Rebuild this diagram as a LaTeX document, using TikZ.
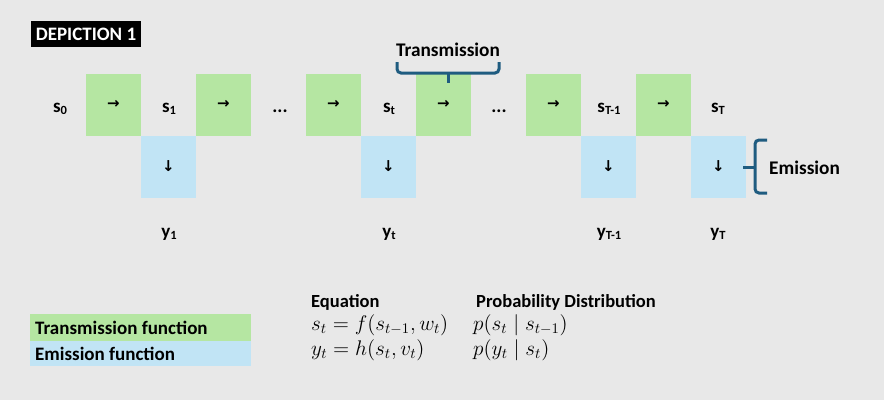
\documentclass[tikz,border=0pt]{standalone}
\usepackage{graphicx}
\usepackage[no-math]{fontspec}
\setmainfont{Carlito}
\newfontfamily\symfont{DejaVu Sans}
\definecolor{bgc}{HTML}{E8E8E8}
\definecolor{tgreen}{HTML}{B5E6A2}
\definecolor{eblue}{HTML}{C1E4F5}
\definecolor{bracec}{HTML}{1F5C80}
\tikzset{
  tbox/.style={fill=tgreen, minimum width=55pt, minimum height=62pt, inner sep=0pt, outer sep=0pt, font=\symfont\bfseries\fontsize{15}{15}\selectfont},
  ebox/.style={tbox, fill=eblue},
  lbl/.style={font=\bfseries\fontsize{19}{19}\selectfont, anchor=base, inner sep=0pt},
  bracepath/.style={draw=bracec, line width=3pt, rounded corners=4pt},
  heading/.style={font=\bfseries\fontsize{18.5}{18.5}\selectfont, anchor=base west, inner sep=0pt},
  legtxt/.style={font=\bfseries\fontsize{19}{19}\selectfont, anchor=base west, inner sep=0pt},
  eqn/.style={font=\fontsize{14.4}{14.4}\selectfont, anchor=base west, inner sep=0pt},
  bigtxt/.style={font=\bfseries\fontsize{19.3}{19.3}\selectfont, inner sep=0pt}
}
\newcommand{\lsub}[2]{#1\raisebox{-0.28ex}{\fontsize{12.5}{12.5}\selectfont #2}}
\newcommand{\bigmath}[1]{\scalebox{1.47}{$#1$}}
\begin{document}
\begin{tikzpicture}[x=1pt,y=-1pt]
\fill[bgc] (0,0) rectangle (884,400);
\useasboundingbox (0,0) rectangle (884,400);

% title
\node[fill=black, text=white, minimum width=110pt, minimum height=26pt, inner sep=0pt,
      font=\bfseries\fontsize{19}{19}\selectfont] (title) at (86,34) {DEPICTION 1};

% transmission boxes
\node[tbox] (g1) at (113.5,104.5) {→};
\node[tbox] (g2) at (223.5,104.5) {→};
\node[tbox] (g3) at (333.5,104.5) {→};
\node[tbox] (g4) at (443.5,104.5) {→};
\node[tbox] (g5) at (553.5,104.5) {→};
\node[tbox] (g6) at (663.5,104.5) {→};

% emission boxes
\node[ebox] (b1) at (168.5,166.5) {↓};
\node[ebox] (b2) at (388.5,166.5) {↓};
\node[ebox] (b3) at (608.5,166.5) {↓};
\node[ebox] (b4) at (718.5,166.5) {↓};

% state labels
\node[lbl] (s0) at (60,112) {\lsub{s}{0}};
\node[lbl] (s1) at (169,112) {\lsub{s}{1}};
\node[lbl] (d1) at (280,112) {...};
\node[lbl] (st) at (389,112) {\lsub{s}{t}};
\node[lbl] (d2) at (499,112) {...};
\node[lbl] (sT1) at (609,112) {\lsub{s}{T-1}};
\node[lbl] (sT) at (718,112) {\lsub{s}{T}};

% observation labels
\node[lbl] (y1) at (169,237) {\lsub{y}{1}};
\node[lbl] (yt) at (389,237) {\lsub{y}{t}};
\node[lbl] (yT1) at (609,237) {\lsub{y}{T-1}};
\node[lbl] (yT) at (718,237) {\lsub{y}{T}};

% transmission brace
\coordinate (tb1) at (397,62);
\coordinate (tb2) at (499,62);
\coordinate (tbm) at (448,73);
\coordinate (tbt) at (448,83);
\draw[bracepath] (tb1) -- (397,73) -- (499,73) -- (tb2);
\draw[draw=bracec, line width=3pt] (tbm) -- (tbt);
\node[bigtxt, anchor=base] (ttxt) at (448,56) {Transmission};

% emission brace
\coordinate (eb1) at (767,140);
\coordinate (eb2) at (767,193);
\coordinate (ebm) at (755,167);
\coordinate (ebt) at (743,167);
\draw[bracepath] (eb1) -- (755,140) -- (755,193) -- (eb2);
\draw[draw=bracec, line width=3pt] (ebm) -- (ebt);
\node[bigtxt, anchor=base west] (etxt) at (769,174) {Emission};

% legend
\fill[tgreen] (30,314) rectangle (251,340.5);
\fill[eblue] (30,340.5) rectangle (251,366);
\node[legtxt] (lt) at (35,334) {Transmission function};
\node[legtxt] (le) at (35,360) {Emission function};

\node[heading] (h1) at (311,307) {Equation};
\node[heading] (h2) at (476,307) {Probability Distribution};
\node[eqn] (e1) at (311,330) {\bigmath{s_t = f(s_{t-1}, w_t)}};
\node[eqn] (e2) at (311,355) {\bigmath{y_t = h(s_t, v_t)}};
\node[eqn] (p1) at (473,330) {\bigmath{p(s_t \mid s_{t-1})}};
\node[eqn] (p2) at (473,355) {\bigmath{p(y_t \mid s_t)}};
\end{tikzpicture}
\end{document}
